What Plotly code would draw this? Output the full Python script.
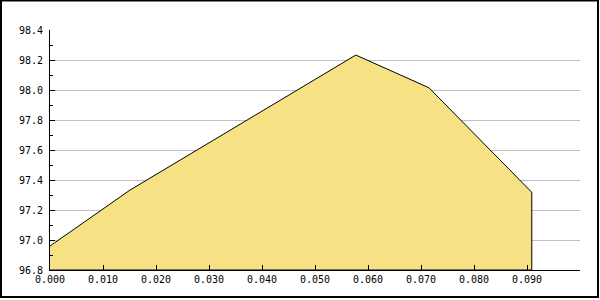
import plotly.graph_objects as go

x_values = [0.0, 0.0151, 0.0577, 0.0715, 0.0909]
y_values = [96.96, 97.333, 98.233, 98.015, 97.318]

x_tick_vals = [0.0, 0.01, 0.02, 0.03, 0.04, 0.05, 0.06, 0.07, 0.08, 0.09]
x_tick_text = ["0.000", "0.010", "0.020", "0.030", "0.040", "0.050", "0.060", "0.070", "0.080", "0.090"]
y_tick_vals = [96.8, 97.0, 97.2, 97.4, 97.6, 97.8, 98.0, 98.2, 98.4]
y_tick_text = ["96.8", "97.0", "97.2", "97.4", "97.6", "97.8", "98.0", "98.2", "98.4"]

y_min, y_max = 96.8, 98.4
x_min, x_max = 0.0, 0.1

# closed polygon down to the axis floor
poly_x = x_values + [x_values[-1], x_values[0]]
poly_y = y_values + [y_min, y_min]

fig = go.Figure()
fig.add_trace(go.Scatter(
    x=poly_x, y=poly_y, mode="lines", fill="toself",
    fillcolor="#F6E185", line=dict(color="black", width=1),
    hoverinfo="skip", showlegend=False,
))

W, H = 600, 300
ml, mr, mt, mb = 50, 20, 30, 30
pw, ph = W - ml - mr, H - mt - mb

fig.update_layout(
    width=W, height=H,
    margin=dict(l=ml, r=mr, t=mt, b=mb),
    paper_bgcolor="white", plot_bgcolor="white",
    font=dict(family="DejaVu Sans Mono", size=10, color="black"),
    xaxis=dict(
        range=[x_min, x_max], tickvals=x_tick_vals, ticktext=x_tick_text,
        showgrid=False, zeroline=False, showline=True, linecolor="black", linewidth=1,
        ticks="inside", ticklen=5, tickcolor="black", tickwidth=1,
        fixedrange=True,
    ),
    yaxis=dict(
        range=[y_min, y_max], tickvals=y_tick_vals, ticktext=y_tick_text,
        showgrid=True, gridcolor="#C0C0C0", gridwidth=1,
        zeroline=False, showline=True, linecolor="black", linewidth=1,
        ticks="inside", ticklen=5, tickcolor="black", tickwidth=1,
        minor=dict(ticks="inside", ticklen=3, dtick=0.1, tickcolor="black", showgrid=False),
        ticklabelstandoff=4,
        fixedrange=True,
    ),
    shapes=[dict(
        type="rect", xref="paper", yref="paper",
        x0=(1 - ml) / pw, x1=(598 - ml) / pw,
        y0=(mb - 297 + H - H) / ph if False else -(297 - (H - mb)) / ph,
        y1=1 + (mt - 0.5) / ph,
        line=dict(color="black", width=2), layer="above",
    )],
)

fig.write_html("out.html")
